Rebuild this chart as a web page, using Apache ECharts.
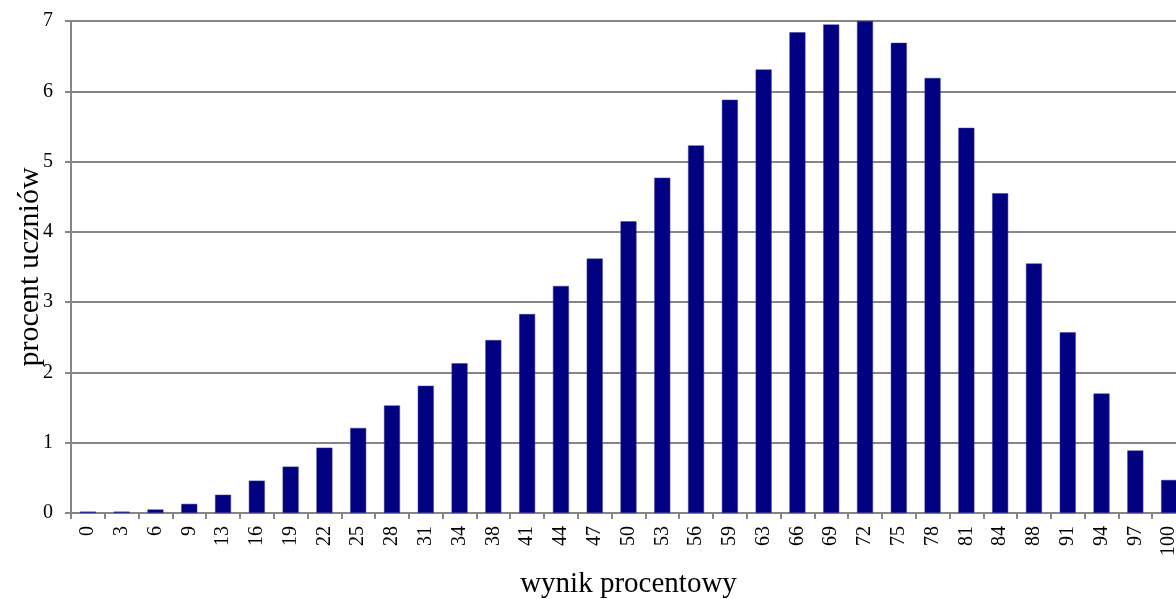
<!DOCTYPE html>
<html>
<head>
<meta charset="utf-8">
<script src="https://cdn.jsdelivr.net/npm/echarts@6/dist/echarts.min.js"></script>
<style>
html,body{margin:0;padding:0;background:#fff;}
#c{width:1176px;height:599px;}
</style>
</head>
<body>
<div id="c"></div>
<script>
var categories = ['0','3','6','9','13','16','19','22','25','28','31','34','38','41','44','47','50','53','56','59','63','66','69','72','75','78','81','84','88','91','94','97','100'];
var values = [0.02,0.02,0.05,0.13,0.26,0.46,0.66,0.93,1.21,1.53,1.81,2.13,2.46,2.83,3.23,3.62,4.15,4.77,5.23,5.88,6.31,6.84,6.95,7.0,6.69,6.19,5.48,4.55,3.55,2.57,1.70,0.89,0.47];
var yTicks = [0,1,2,3,4,5,6,7];
var xTitle = 'wynik procentowy';
var yTitle = 'procent uczniów';

var font = "'Liberation Serif','Times New Roman',serif";
var chart = echarts.init(document.getElementById('c'), null, {renderer:'canvas'});
chart.setOption({
  animation:false,
  backgroundColor:'#ffffff',
  grid:{left:71, top:21, width:1115, height:492, containLabel:false, outerBoundsMode:'none'},
  graphic:[{
    type:'text',
    x:30, y:267,
    rotation:Math.PI/2,
    style:{text:yTitle, fontFamily:font, fontSize:30, fill:'#000', align:'center', verticalAlign:'middle'}
  }],
  xAxis:{
    type:'category',
    data:categories,
    name:xTitle,
    nameLocation:'middle',
    nameGap:57,
    nameTextStyle:{fontFamily:font,fontSize:29,color:'#000'},
    axisLine:{show:true,lineStyle:{color:'#868686',width:2}},
    axisTick:{show:true,length:6,alignWithLabel:false,lineStyle:{color:'#868686',width:2}},
    axisLabel:{rotate:90,interval:0,margin:13,fontFamily:font,fontSize:20,color:'#000'},
    splitLine:{show:false}
  },
  yAxis:{
    type:'value',
    min:yTicks[0],
    max:yTicks[yTicks.length-1],
    interval:1,
    axisLine:{show:true,lineStyle:{color:'#868686',width:2}},
    axisTick:{show:true,length:6,lineStyle:{color:'#868686',width:2}},
    axisLabel:{margin:18,fontFamily:font,fontSize:20,color:'#000'},
    splitLine:{show:true,lineStyle:{color:'#868686',width:2}}
  },
  series:[{
    type:'bar',
    data:values,
    barWidth:16,
    itemStyle:{color:'#000080',borderColor:'#3c3ca0',borderWidth:0.5}
  }]
});
</script>
</body>
</html>
